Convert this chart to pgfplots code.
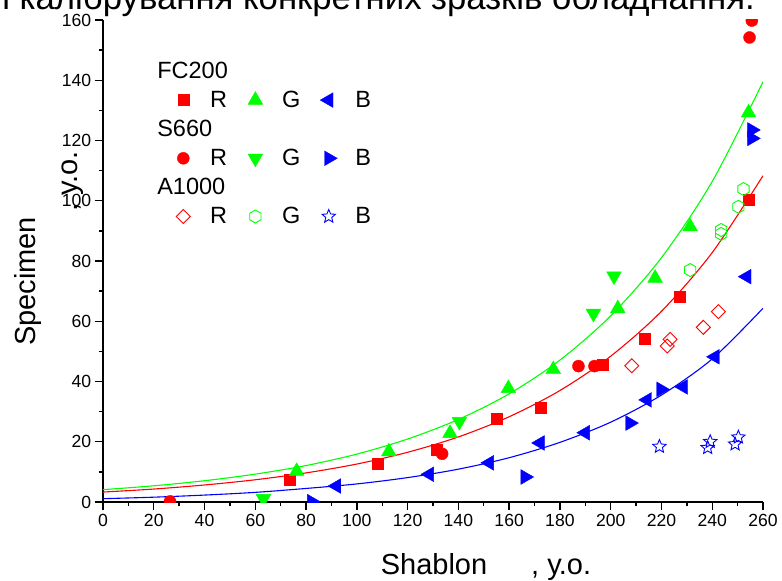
\documentclass[border=0pt]{standalone}
\usepackage{fontspec}
\setmainfont{Liberation Sans}
\usepackage{pgfplots}
\pgfplotsset{compat=1.18}

\definecolor{cR}{RGB}{255,0,0}
\definecolor{cG}{RGB}{0,255,0}
\definecolor{cB}{RGB}{0,0,255}

% triangles pointing four ways, outline hexagon and star
\pgfdeclareplotmark{tri}{\pgfpathmoveto{\pgfpointpolar{90}{\pgfplotmarksize}}\pgfpathlineto{\pgfpointpolar{210}{\pgfplotmarksize}}\pgfpathlineto{\pgfpointpolar{330}{\pgfplotmarksize}}\pgfpathclose\pgfusepathqfillstroke}
\pgfdeclareplotmark{tridown}{\pgfpathmoveto{\pgfpointpolar{270}{\pgfplotmarksize}}\pgfpathlineto{\pgfpointpolar{30}{\pgfplotmarksize}}\pgfpathlineto{\pgfpointpolar{150}{\pgfplotmarksize}}\pgfpathclose\pgfusepathqfillstroke}
\pgfdeclareplotmark{trileft}{\pgfpathmoveto{\pgfpointpolar{180}{\pgfplotmarksize}}\pgfpathlineto{\pgfpointpolar{300}{\pgfplotmarksize}}\pgfpathlineto{\pgfpointpolar{60}{\pgfplotmarksize}}\pgfpathclose\pgfusepathqfillstroke}
\pgfdeclareplotmark{triright}{\pgfpathmoveto{\pgfpointpolar{0}{\pgfplotmarksize}}\pgfpathlineto{\pgfpointpolar{120}{\pgfplotmarksize}}\pgfpathlineto{\pgfpointpolar{240}{\pgfplotmarksize}}\pgfpathclose\pgfusepathqfillstroke}
\pgfdeclareplotmark{hexo}{\pgfpathmoveto{\pgfpointpolar{90}{\pgfplotmarksize}}\foreach \a in {150,210,270,330,30}{\pgfpathlineto{\pgfpointpolar{\a}{\pgfplotmarksize}}}\pgfpathclose\pgfusepathqstroke}
\pgfdeclareplotmark{staro}{\pgfpathmoveto{\pgfpointpolar{90}{\pgfplotmarksize}}\foreach \a/\r in {126/0.45,162/1,198/0.45,234/1,270/0.45,306/1,342/0.45,18/1,54/0.45}{\pgfpathlineto{\pgfpointpolar{\a}{\r\pgfplotmarksize}}}\pgfpathclose\pgfusepathqstroke}

\newcommand{\legbox}{\path[draw=none, fill=none] (-12pt,-14.55pt) rectangle (26.7pt,14.55pt);}
\newcommand{\legmark}[2]{\addlegendimage{legend image code/.code={\legbox\draw[#1, only marks] plot coordinates {(0pt,0pt)};}}\addlegendentry{#2}}
\newcommand{\leghead}[1]{\addlegendimage{legend image code/.code={\legbox\node[overlay, draw=none, fill=none, anchor=west, inner sep=0pt, text=black, font=\fontsize{23.5}{28}\selectfont] at (-26pt,0pt) {#1};}}\addlegendentry{}}
\newcommand{\legblank}{\addlegendimage{legend image code/.code={\legbox}}\addlegendentry{}}

\begin{document}
\begin{tikzpicture}
\begin{axis}[
    at={(0,0)}, anchor=south west,
    width=660pt, height=482pt, scale only axis,
    xmin=0, xmax=260, ymin=0, ymax=160,
    axis x line*=bottom, axis y line*=left,
    axis line style={-, line width=1.5pt},
    xtick distance=20, ytick distance=20, minor tick num=1,
    tick align=outside, major tick length=8.3pt, minor tick length=4.3pt,
    tick style={line width=1.4pt, black},
    ticklabel style={font=\fontsize{17.6}{20}\selectfont},
    /pgf/number format/assume math mode=true,
    clip mode=individual, clip marker paths=true,
    legend cell align=left,
    legend columns=3,
    legend style={at={(0.1035,0.9244)}, anchor=north west, draw=none, fill=none,
        inner sep=0pt, outer sep=0pt, row sep=0pt,
        font=\fontsize{23.5}{28}\selectfont,
        nodes={inner sep=0pt},
        /tikz/every even column/.append style={column sep=16.4pt}},
]
% fitted curves
\addplot[cG, line width=1.1pt, smooth, forget plot] coordinates {
(0,4.1) (20,5.38) (40,7.06) (60,9.26) (80,12.1) (100,15.9) (120,20.9) (140,27.4)
(160,35.9) (180,47.1) (200,61.8) (220,81.1) (240,106.4) (260,139.5)};
\addplot[cR, line width=1.1pt, smooth, forget plot] coordinates {
(0,3.3) (20,4.3) (40,5.65) (60,7.38) (80,9.66) (100,12.6) (120,16.5) (140,21.6)
(160,28.3) (180,37.0) (200,48.4) (220,63.3) (240,82.8) (260,108.3)};
\addplot[cB, line width=1.1pt, smooth, forget plot] coordinates {
(0,1.1) (20,1.6) (40,2.3) (60,3.2) (80,4.5) (100,6.0) (120,8.1) (140,10.9)
(160,14.7) (180,19.8) (200,26.5) (220,35.5) (240,47.5) (260,64.3)};

% FC200
\addplot[only marks, mark=square*, mark size=5.5pt, cR, mark options={line width=0.4pt}, forget plot] coordinates {
(73.4,7.5) (108.1,12.6) (131.6,17.3) (154.9,27.6) (172.4,31.3) (196.7,45.7) (213.3,54.1) (227.1,68.0) (254.3,100.5)};
\addplot[only marks, mark=tri, mark size=8.5pt, cG, mark options={line width=0.4pt}, forget plot] coordinates {
(76.3,10.2) (112.6,16.7) (136.7,22.8) (159.7,37.7) (177.4,44.0) (202.8,64.2) (217.5,74.3) (231.3,91.4) (254.3,129.2)};
\addplot[only marks, mark=trileft, mark size=8.5pt, cB, mark options={line width=0.4pt}, forget plot] coordinates {
(92.0,5.3) (128.6,9.2) (152.2,13.0) (172.2,19.6) (190.0,23.0) (214.4,33.9) (228.6,38.2) (241.1,48.2) (253.6,74.8)};
% S660
\addplot[only marks, mark=*, mark size=6pt, cR, mark options={line width=0.4pt}, forget plot] coordinates {
(26.4,0.2) (133.6,16.0) (187.3,45.1) (193.6,45.1) (254.7,154.2) (255.6,159.8)};
\addplot[only marks, mark=tridown, mark size=8.5pt, cG, mark options={line width=0.4pt}, forget plot] coordinates {
(63.2,1.1) (140.4,26.7) (193.2,62.6) (201.3,75.0)};
\addplot[only marks, mark=triright, mark size=8.5pt, cB, mark options={line width=0.4pt}, forget plot] coordinates {
(82.2,0.1) (166.3,8.3) (207.6,26.2) (219.8,37.4) (255.6,120.7) (255.6,123.5)};
% A1000
\addplot[only marks, mark=square, mark size=4.95pt, cR, mark options={rotate=45, line width=0.9pt}, forget plot] coordinates {
(208.3,45.2) (222.3,51.8) (223.4,54.0) (236.5,58.0) (242.4,63.2)};
\addplot[only marks, mark=hexo, mark size=6.5pt, cG, mark options={line width=0.9pt}, forget plot] coordinates {
(231.3,77.0) (243.5,89.0) (243.5,90.3) (250.3,98.0) (252.3,103.9)};
\addplot[only marks, mark=staro, mark size=7pt, cB, mark options={line width=0.9pt}, forget plot] coordinates {
(219.2,18.4) (238.2,18.0) (239.2,20.0) (249.0,19.2) (250.3,21.5)};

\leghead{FC200}\legblank\legblank
\legmark{cR, mark=square*, mark size=5.5pt}{R}
\legmark{cG, mark=tri, mark size=8.5pt}{G}
\legmark{cB, mark=trileft, mark size=8.5pt}{B}
\leghead{S660}\legblank\legblank
\legmark{cR, mark=*, mark size=6pt}{R}
\legmark{cG, mark=tridown, mark size=8.5pt}{G}
\legmark{cB, mark=triright, mark size=8.5pt}{B}
\leghead{A1000}\legblank\legblank
\legmark{cR, mark=square, mark size=4.95pt, mark options={rotate=45, line width=0.9pt}}{R}
\legmark{cG, mark=hexo, mark size=6.5pt, mark options={line width=0.9pt}}{G}
\legmark{cB, mark=staro, mark size=7pt, mark options={line width=0.9pt}}{B}

% labels and title
\node[rotate=90, anchor=base, font=\fontsize{29}{34}\selectfont] at (rel axis cs:-0.1024,0.4575) {Specimen};
\node[rotate=90, anchor=base, font=\fontsize{29}{34}\selectfont] at (rel axis cs:-0.0379,0.665) {, у.о.};
\node[anchor=base, font=\fontsize{29}{34}\selectfont] at (rel axis cs:0.5016,-0.1494) {Shablon};
\node[anchor=base west, inner sep=0pt, font=\fontsize{29}{34}\selectfont] at (rel axis cs:0.6485,-0.1494) {, у.о.};
\node[anchor=base east, inner sep=0pt, font=\fontsize{34.7}{38}\selectfont] at (rel axis cs:0.988,1.0228) {і калібрування конкретних зразків обладнання.};
\end{axis}
\pgfresetboundingbox
\path[use as bounding box] (-103pt,-79pt) rectangle (679pt,502pt);
\end{tikzpicture}
\end{document}
